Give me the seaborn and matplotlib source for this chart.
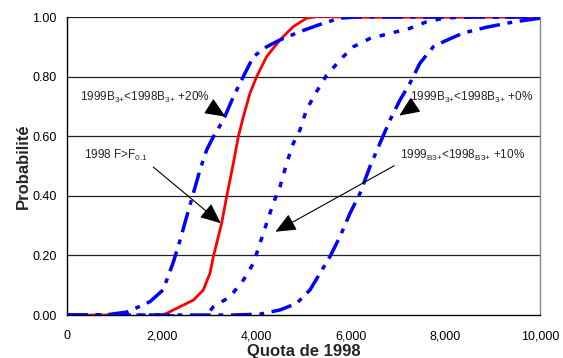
import pandas as pd
import matplotlib.pyplot as plt
import seaborn as sns

# valeurs
x_red = [0, 1000, 1300, 1600, 1900, 2100, 2389, 2671, 2882, 3023, 3094, 3164, 3270, 3376, 3517, 3622, 3728,
         3869, 4010, 4221, 4503, 4785, 5067, 5349, 5560, 6124, 10000]
y_red = [0.0, 0.0, -0.004, -0.008, -0.006, 0.005, 0.028, 0.05, 0.084, 0.14, 0.196, 0.24, 0.308, 0.397, 0.509,
         0.598, 0.665, 0.744, 0.80, 0.867, 0.923, 0.968, 0.996, 1.003, 1.001, 0.999, 1.0]

x_p20 = [0, 800, 1268, 1550, 1755, 2030, 2241, 2389, 2530, 2671, 2812, 2953, 3094, 3305, 3517, 3728, 3940,
         4221, 4503, 4926, 5419, 5772, 6124, 10000]
y_p20 = [0.0, 0.0, 0.01, 0.03, 0.045, 0.084, 0.174, 0.25, 0.33, 0.408, 0.487, 0.554, 0.598, 0.654, 0.732,
         0.80, 0.867, 0.90, 0.923, 0.951, 0.979, 0.996, 1.0, 1.0]

x_p10 = [0, 2000, 2537, 2960, 3094, 3446, 3728, 3940, 4080, 4221, 4362, 4503, 4644, 4785, 4926, 5067, 5279,
         5490, 5842, 6053, 6406, 6829, 7252, 7604, 8000, 8500, 10000]
y_p10 = [0.0, 0.0, -0.007, 0.0, 0.028, 0.061, 0.117, 0.173, 0.24, 0.308, 0.375, 0.43, 0.509, 0.576, 0.621,
         0.69, 0.75, 0.805, 0.867, 0.90, 0.928, 0.945, 0.962, 0.984, 0.997, 1.0, 1.0]

x_p0 = [0, 3500, 4080, 4503, 4855, 5137, 5349, 5560, 5772, 5983, 6195, 6406, 6617, 6829, 7040, 7252, 7463,
        7745, 8000, 8372, 8880, 9429, 10000]
y_p0 = [0.0, 0.0, 0.003, 0.017, 0.039, 0.084, 0.14, 0.196, 0.263, 0.341, 0.408, 0.498, 0.576, 0.654, 0.721,
        0.778, 0.845, 0.90, 0.92, 0.946, 0.966, 0.983, 0.996]

sns.set_style("white")
plt.rcParams['font.family'] = ['Liberation Sans', 'DejaVu Sans']

fig = plt.figure(figsize=(5.63, 3.58), dpi=100)
ax = fig.add_axes([0.119, 0.12, 0.84, 0.8325])

for y in [0.2, 0.4, 0.6, 0.8, 1.0]:
    ax.axhline(y, color='#222222', lw=0.9, zorder=0)

blue = '#0000ff'
sns.lineplot(x=x_p20, y=y_p20, ax=ax, color=blue, lw=2.5, zorder=3).lines[-1].set_dashes([6, 2.2, 1.4, 2.2])
sns.lineplot(x=x_p10, y=y_p10, ax=ax, color=blue, lw=2.5, zorder=3).lines[-1].set_dashes([1.6, 2.6])
sns.lineplot(x=x_p0, y=y_p0, ax=ax, color=blue, lw=2.5, zorder=3).lines[-1].set_dashes([6, 2.2, 1.4, 2.2])
sns.lineplot(x=x_red, y=y_red, ax=ax, color='#ff0000', lw=2, zorder=2)

ax.set_xlim(0, 10000)
ax.set_ylim(0, 1.0)
ax.set_xticks([0, 2000, 4000, 6000, 8000, 10000])
ax.set_xticklabels(['0', '2,000', '4,000', '6,000', '8,000', '10,000'])
ax.set_yticks([0, 0.2, 0.4, 0.6, 0.8, 1.0])
ax.set_yticklabels(['0.00', '0.20', '0.40', '0.60', '0.80', '1.00'])
ax.tick_params(axis='both', direction='out', length=4, width=0.9, labelsize=9, colors='black')
ax.tick_params(axis='x', pad=7)
ax.set_xlabel('Quota de 1998', fontsize=12, fontweight='bold', labelpad=1)
ax.set_ylabel('Probabilité', fontsize=12, fontweight='bold', labelpad=1)

for s in ['left', 'bottom']:
    ax.spines[s].set_color('black')
    ax.spines[s].set_linewidth(1)
ax.spines['top'].set_visible(False)
ax.spines['right'].set_color('#888888')
ax.spines['right'].set_linewidth(1)

arrow = dict(arrowstyle='-|>,head_length=1.5,head_width=0.65', color='black', lw=0.8)
sub = r'$\mathregular{_{%s}}$'
b3 = sub % '3{+}'
ax.annotate('1999B' + b3 + '<1998B' + b3 + ' +20%',
            xy=(3400, 0.661), xytext=(275, 0.73), fontsize=8.5,
            va='center', arrowprops=dict(arrow, relpos=(0.98, 0.0)), zorder=5)
ax.annotate('1998 F>F' + sub % '0.1', xy=(3298, 0.302), xytext=(359, 0.537),
            fontsize=8.5, va='center', arrowprops=dict(arrow, relpos=(1.0, 0.0)), zorder=5)
ax.annotate('1999B' + b3 + '<1998B' + b3 + ' +0%',
            xy=(6977, 0.664), xytext=(7252, 0.73), fontsize=8.5,
            va='center', arrowprops=dict(arrow, relpos=(0.04, 0.0)), zorder=5)
ax.annotate('1999' + sub % 'B3{+}' + '<1998' + sub % 'B3{+}' + ' +10%',
            xy=(4355, 0.275), xytext=(7040, 0.537), fontsize=8.5,
            va='center', arrowprops=dict(arrow, relpos=(0.0, 0.0)), zorder=5)

fig.savefig('out.png', dpi=100)
